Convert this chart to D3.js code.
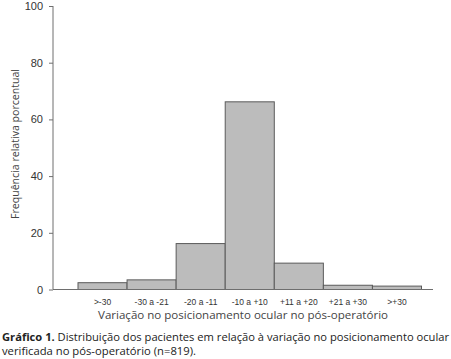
<!DOCTYPE html>
<html><head><meta charset="utf-8">
<script src="https://cdn.jsdelivr.net/npm/d3@7"></script>
<style>body{margin:0;background:#fff}svg{display:block}</style>
</head><body>
<svg id="c" width="451" height="359"></svg>
<script>
const categories = [">-30", "-30 a -21", "-20 a -11", "-10 a +10", "+11 a +20", "+21 a +30", ">+30"];
const values = [2.4, 3.4, 16.2, 66.2, 9.3, 1.5, 1.2];
const yTicks = [0, 20, 40, 60, 80, 100];
const xTitle = "Variação no posicionamento ocular no pós-operatório";
const yTitle = "Frequência relativa porcentual";
const captionBold = "Gráfico 1.";
const captionLine1 = " Distribuição dos pacientes em relação à variação no posicionamento ocular";
const captionLine2 = "verificada no pós-operatório (n=819).";

const svg = d3.select("#c");
const x = d3.scaleBand().domain(categories).range([78, 421.5]).padding(0);
const y = d3.scaleLinear().domain([0, 100]).range([289.5, 6]);

// bars
svg.append("g").selectAll("rect").data(values).join("rect")
  .attr("x", (d, i) => x(categories[i]))
  .attr("width", x.bandwidth())
  .attr("y", d => y(d))
  .attr("height", d => y(0) - y(d))
  .attr("fill", "#bcbcbc")
  .attr("stroke", "#5a5a5a")
  .attr("stroke-width", 1);

// y axis
const ya = svg.append("g").attr("transform", "translate(53,0)")
  .call(d3.axisLeft(y).tickValues(yTicks).tickSize(4).tickPadding(6).tickFormat(d3.format("d")));
ya.select(".domain").attr("stroke", "#6e6e6e").attr("d", `M0,${y(100)}V${y(0)}`);
ya.selectAll(".tick line").attr("stroke", "#6e6e6e");
ya.selectAll(".tick text").attr("font-family", "Liberation Sans, Arial, sans-serif").attr("font-size", 11).attr("fill", "#333");

// x axis line
svg.append("line").attr("x1", 53).attr("x2", 433).attr("y1", y(0)).attr("y2", y(0))
  .attr("stroke", "#6e6e6e").attr("stroke-width", 1);

// x tick labels
const xa = svg.append("g").attr("transform", `translate(0,${y(0)})`)
  .call(d3.axisBottom(x).tickSize(0).tickPadding(9));
xa.select(".domain").remove();
xa.selectAll(".tick text").attr("font-family", "Liberation Sans, Arial, sans-serif").attr("font-size", 8.5).attr("fill", "#333");

// axis titles
svg.append("text").attr("x", 243).attr("y", 319).attr("text-anchor", "middle")
  .attr("font-family", "Open Sans, sans-serif").attr("font-size", 11).attr("fill", "#444")
  .attr("textLength", 290).attr("lengthAdjust", "spacingAndGlyphs").text(xTitle);
svg.append("text").attr("transform", "translate(19,144) rotate(-90)").attr("text-anchor", "middle")
  .attr("font-family", "Open Sans, sans-serif").attr("font-size", 10.5).attr("fill", "#444")
  .attr("textLength", 150).attr("lengthAdjust", "spacingAndGlyphs").text(yTitle);

// caption
const cap = svg.append("text").attr("x", 2).attr("y", 340.5)
  .attr("font-family", "Open Sans, sans-serif").attr("font-size", 11).attr("fill", "#222")
  .attr("textLength", 447).attr("lengthAdjust", "spacingAndGlyphs");
cap.append("tspan").attr("font-weight", "bold").text(captionBold);
cap.append("tspan").text(captionLine1);
svg.append("text").attr("x", 2).attr("y", 355)
  .attr("font-family", "Open Sans, sans-serif").attr("font-size", 11).attr("fill", "#222")
  .attr("textLength", 194).attr("lengthAdjust", "spacingAndGlyphs").text(captionLine2);
</script>
</body></html>
